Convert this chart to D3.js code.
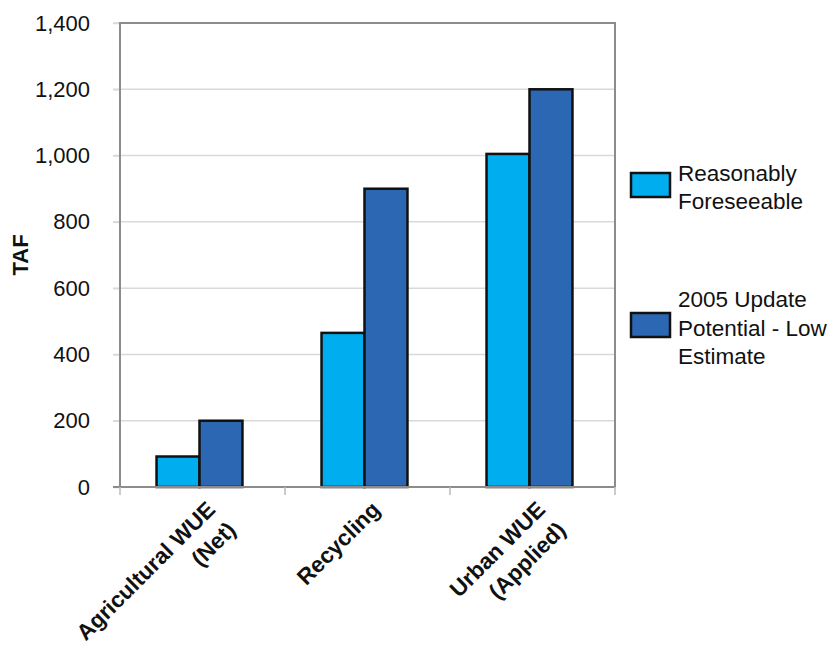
<!DOCTYPE html>
<html><head><meta charset="utf-8">
<script src="https://cdn.jsdelivr.net/npm/d3@7"></script>
<style>body{margin:0;background:#fff}svg{display:block;font-family:"Liberation Sans",Arial,sans-serif}</style>
</head><body><svg id="c" width="834" height="649"></svg>
<script>
const categories = [["Agricultural WUE","(Net)"],["Recycling"],["Urban WUE","(Applied)"]];
const seriesNames = [["Reasonably","Foreseeable"],["2005 Update","Potential - Low","Estimate"]];
const reasonablyForeseeable = [92, 465, 1005];
const updatePotentialLow = [200, 900, 1200];
const yTicks = [0,200,400,600,800,1000,1200,1400];
const colors = ["#00adef","#2c67b3"];

const svg = d3.select("#c");
const L=120,R=615,T=23,B=487;
const y = d3.scaleLinear().domain([0,1400]).range([B,T]);
const x0 = d3.scaleBand().domain(d3.range(categories.length)).range([L,R]).padding(0);
const x1 = d3.scaleBand().domain([0,1]).range([-3,x0.bandwidth()-3]).paddingInner(0).paddingOuter(0.92);
const fmt = d3.format(",");

// gridlines
svg.append("g").selectAll("line").data(yTicks.slice(1)).join("line")
  .attr("x1",L-7).attr("x2",R).attr("y1",d=>y(d)).attr("y2",d=>y(d))
  .attr("stroke","#d9d9d9").attr("stroke-width",1.5);
// y axis ticks labels
const ya = svg.append("g").attr("transform",`translate(${L},0)`)
  .call(d3.axisLeft(y).tickValues(yTicks).tickFormat(fmt).tickSize(7).tickPadding(23));
ya.select(".domain").remove();
ya.selectAll("line").attr("stroke","#d9d9d9").attr("stroke-width",1.5);
ya.selectAll("text").attr("font-size",22).attr("fill","#111").attr("font-family","Liberation Sans, Arial, sans-serif");

// frame
svg.append("path").attr("d",`M${L},${B}V${T}H${R}V${B}`).attr("fill","none").attr("stroke","#8c8c8c").attr("stroke-width",2);

// bars
const series=[reasonablyForeseeable,updatePotentialLow];
series.forEach((vals,s)=>{
  svg.append("g").selectAll("rect").data(vals).join("rect")
    .attr("x",(d,i)=>x0(i)+x1(s)).attr("width",x1.bandwidth())
    .attr("y",d=>y(d)).attr("height",d=>B-y(d))
    .attr("fill",colors[s]).attr("stroke","#111").attr("stroke-width",2.5);
});

// x axis
const xa = svg.append("g").attr("transform",`translate(0,${B})`);
xa.append("line").attr("x1",L-7).attr("x2",R).attr("stroke","#8c8c8c").attr("stroke-width",2);
const tickPos = d3.range(categories.length).map(i=>x0(i)).concat([R]);
xa.selectAll("line.t").data(tickPos).join("line").attr("class","t")
  .attr("x1",d=>d).attr("x2",d=>d).attr("y1",0).attr("y2",8).attr("stroke","#bbb").attr("stroke-width",1.5);

categories.forEach((lines,i)=>{
  const cx = x0(i)+x0.bandwidth()/2;
  const t = svg.append("text").attr("transform",`translate(${cx+14},${B+24}) rotate(-45)`)
    .attr("text-anchor","end").attr("font-size",22.5).attr("font-weight","bold").attr("fill","#111");
  lines.forEach((ln,j)=>t.append("tspan").attr("x",0).attr("y",j*29).text(ln));
});

// y title
svg.append("text").attr("transform","translate(28,255) rotate(-90)").attr("text-anchor","middle")
  .attr("font-size",22).attr("font-weight","bold").attr("fill","#111").text("TAF");

// legend
const legY=[[173,197],[313,337]];
const legText=[[181,209],[307,336,364]];
seriesNames.forEach((lines,s)=>{
  svg.append("rect").attr("x",631).attr("y",legY[s][0]).attr("width",39).attr("height",legY[s][1]-legY[s][0])
    .attr("fill",colors[s]).attr("stroke","#111").attr("stroke-width",2.5);
  lines.forEach((ln,j)=>svg.append("text").attr("x",678).attr("y",legText[s][j])
    .attr("font-size",22.5).attr("fill","#111").text(ln));
});
</script></body></html>
